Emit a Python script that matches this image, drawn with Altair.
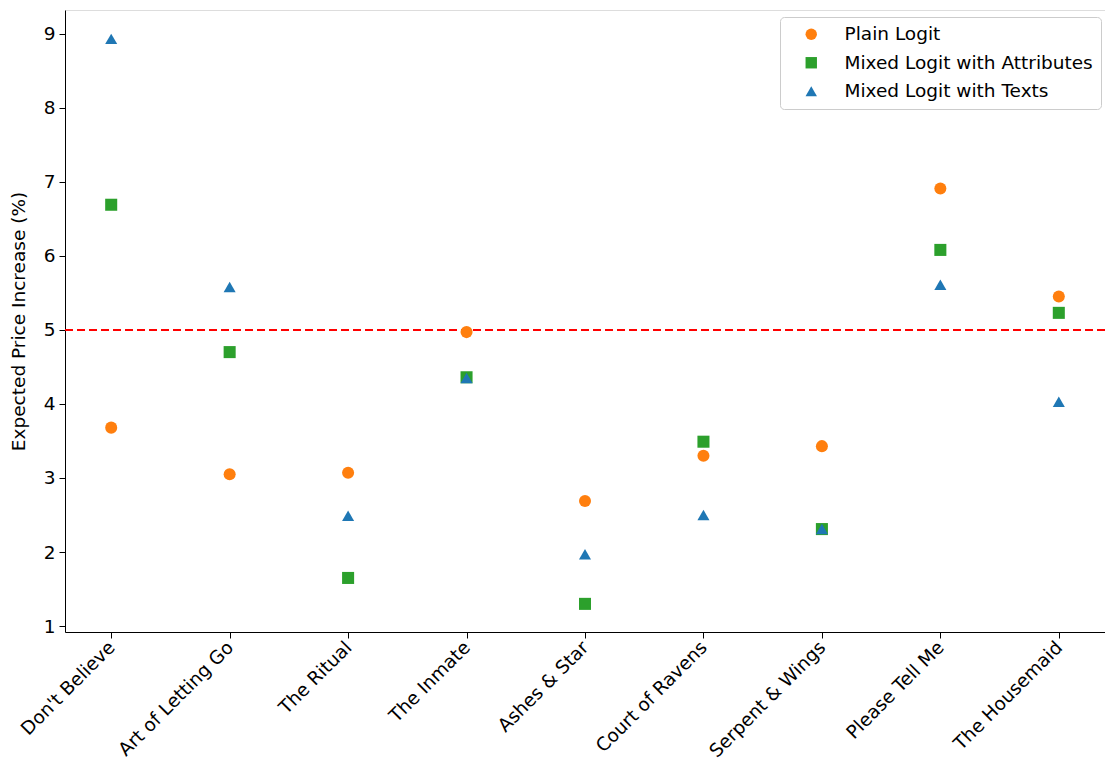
import altair as alt
import pandas as pd

books = ["Don't Believe", "Art of Letting Go", "The Ritual", "The Inmate", "Ashes & Star",
         "Court of Ravens", "Serpent & Wings", "Please Tell Me", "The Housemaid"]
series = ["Plain Logit", "Mixed Logit with Attributes", "Mixed Logit with Texts"]
plain_logit = [3.68, 3.05, 3.07, 4.97, 2.69, 3.30, 3.43, 6.91, 5.45]
mixed_attr = [6.69, 4.70, 1.65, 4.36, 1.30, 3.49, 2.31, 6.08, 5.23]
mixed_text = [8.93, 5.58, 2.49, 4.35, 1.97, 2.50, 2.31, 5.61, 4.03]
threshold = [5.0]

colors = ["#ff7f0e", "#2ca02c", "#1f77b4"]
shapes = ["circle", "square", "triangle-up"]
FONT = "DejaVu Sans"
FS = 18.5

rows = []
for s, vals in zip(series, [plain_logit, mixed_attr, mixed_text]):
    for b, v in zip(books, vals):
        rows.append({"book": b, "series": s, "value": v, "order": series.index(s)})
df = pd.DataFrame(rows)

x = alt.X("book:N", sort=books, title=None,
          scale=alt.Scale(type="point", padding=0.39),
          axis=alt.Axis(labelAngle=-45, labelAlign="right", labelBaseline="middle",
                        labelFontSize=FS, labelFont=FONT, labelColor="black",
                        tickColor="black", tickSize=6, domainColor="black", labelPadding=6,
                        labelLimit=0))
y = alt.Y("value:Q", title="Expected Price Increase (%)",
          scale=alt.Scale(domain=[0.92, 9.32], nice=False, zero=False),
          axis=alt.Axis(values=list(range(1, 10)), format="d", grid=False, labelFontSize=FS,
                        labelFont=FONT, labelColor="black", tickColor="black",
                        tickSize=6, domainColor="black", titleFontSize=FS,
                        titleFont=FONT, titleFontWeight="normal",
                        titleColor="black", titleX=-37, titleAnchor="middle",
                        labelPadding=4))

points = alt.Chart(df).mark_point(filled=True, opacity=1, size=145).encode(
    x=x, y=y,
    color=alt.Color("series:N", sort=series,
                    scale=alt.Scale(domain=series, range=colors),
                    legend=alt.Legend(title=None, orient="none", legendX=715, legendY=7,
                                      labelFontSize=FS, labelFont=FONT, labelLimit=0,
                                      labelColor="black", symbolSize=130,
                                      fillColor="white", strokeColor="#cccccc",
                                      cornerRadius=4, padding=8, rowPadding=9.5,
                                      labelOffset=24, symbolOffset=14)),
    shape=alt.Shape("series:N", sort=series,
                    scale=alt.Scale(domain=series, range=shapes)),
    order=alt.Order("order:Q"),
)

rule = alt.Chart(pd.DataFrame({"t": threshold})).mark_rule(
    color="red", strokeDash=[8, 4], strokeWidth=2).encode(y=alt.Y("t:Q"))

chart = alt.layer(rule, points).properties(
    width=1040, height=622,
    autosize=alt.AutoSizeParams(type="none"),
    padding={"left": 57, "top": 2, "right": 0, "bottom": 140},
).configure_view(stroke="black", strokeWidth=1.2).configure(background="white")

chart.save("out.html", embed_options={"renderer": "svg", "actions": False})
